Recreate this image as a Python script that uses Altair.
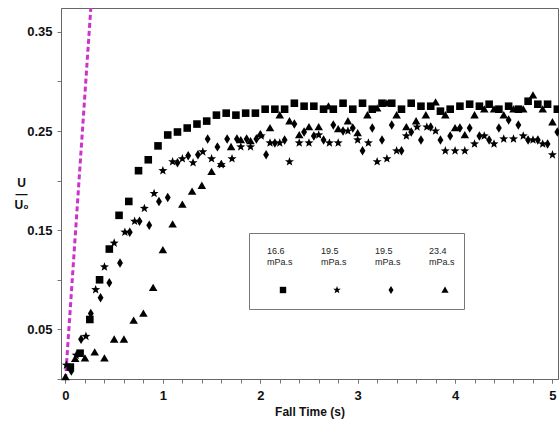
import altair as alt
import pandas as pd

# ---- data ----
sq_t = [0.05, 0.15, 0.25, 0.35, 0.45, 0.55, 0.65, 0.75, 0.85, 0.95,
        1.05, 1.15, 1.25, 1.35, 1.45, 1.55, 1.65, 1.75, 1.85, 1.95,
        2.05, 2.15, 2.25, 2.35, 2.45, 2.55, 2.65, 2.75, 2.85, 2.95,
        3.05, 3.15, 3.25, 3.35, 3.45, 3.55, 3.65, 3.75, 3.85, 3.95,
        4.05, 4.15, 4.25, 4.35, 4.45, 4.55, 4.65, 4.75, 4.85, 4.95, 5.05]
sq_u = [0.012, 0.026, 0.060, 0.100, 0.131, 0.165, 0.179, 0.210, 0.221, 0.235,
        0.246, 0.249, 0.253, 0.257, 0.260, 0.266, 0.268, 0.266, 0.268, 0.268,
        0.272, 0.272, 0.272, 0.278, 0.275, 0.275, 0.272, 0.272, 0.278, 0.272,
        0.278, 0.272, 0.278, 0.278, 0.272, 0.278, 0.275, 0.275, 0.270, 0.272,
        0.275, 0.277, 0.275, 0.277, 0.272, 0.275, 0.272, 0.280, 0.277, 0.277, 0.272]

st_t = [0.01, 0.11, 0.21, 0.31, 0.40, 0.50, 0.61, 0.71, 0.81, 0.91,
        1.00, 1.10, 1.20, 1.31, 1.41, 1.50, 1.60, 1.71, 1.80, 1.90,
        2.01, 2.10, 2.20, 2.30, 2.40, 2.50, 2.60, 2.71, 2.80, 2.90,
        3.00, 3.11, 3.20, 3.30, 3.40, 3.50, 3.61, 3.71, 3.80, 3.90,
        4.00, 4.10, 4.20, 4.30, 4.40, 4.50, 4.60, 4.70, 4.80, 4.90, 5.00]
st_u = [0.014, 0.024, 0.043, 0.090, 0.113, 0.137, 0.148, 0.159, 0.172, 0.187,
        0.210, 0.219, 0.222, 0.218, 0.229, 0.222, 0.216, 0.222, 0.234, 0.234,
        0.245, 0.238, 0.238, 0.219, 0.238, 0.238, 0.246, 0.238, 0.238, 0.250,
        0.241, 0.238, 0.219, 0.222, 0.230, 0.245, 0.254, 0.254, 0.250, 0.230,
        0.230, 0.230, 0.237, 0.245, 0.237, 0.242, 0.242, 0.245, 0.241, 0.237, 0.226]

di_t = [0.06, 0.16, 0.26, 0.36, 0.45, 0.56, 0.66, 0.76, 0.86, 0.96,
        1.05, 1.15, 1.26, 1.36, 1.46, 1.56, 1.66, 1.76, 1.86, 1.96,
        2.06, 2.15, 2.25, 2.35, 2.45, 2.55, 2.65, 2.75, 2.85, 2.95,
        3.05, 3.15, 3.25, 3.35, 3.45, 3.55, 3.65, 3.75, 3.85, 3.95,
        4.05, 4.15, 4.25, 4.35, 4.45, 4.55, 4.65, 4.75, 4.85, 4.95, 5.05]
di_u = [0.008, 0.040, 0.066, 0.082, 0.097, 0.117, 0.148, 0.159, 0.155, 0.179,
        0.183, 0.218, 0.225, 0.226, 0.242, 0.234, 0.242, 0.242, 0.242, 0.242,
        0.226, 0.238, 0.241, 0.257, 0.249, 0.245, 0.241, 0.256, 0.250, 0.253,
        0.230, 0.253, 0.241, 0.256, 0.230, 0.249, 0.241, 0.254, 0.241, 0.245,
        0.253, 0.253, 0.245, 0.241, 0.253, 0.261, 0.256, 0.241, 0.241, 0.237, 0.249]

tr_t = [0.00, 0.10, 0.20, 0.30, 0.40, 0.50, 0.60, 0.70, 0.80, 0.90,
        1.00, 1.10, 1.20, 1.30, 1.40, 1.50, 1.60, 1.70, 1.80, 1.90,
        2.00, 2.10, 2.20, 2.30, 2.40, 2.50, 2.60, 2.70, 2.80, 2.90,
        3.00, 3.10, 3.20, 3.30, 3.40, 3.50, 3.60, 3.70, 3.80, 3.90,
        4.00, 4.10, 4.20, 4.30, 4.40, 4.50, 4.60, 4.70, 4.80, 4.90, 5.00]
tr_u = [0.002, 0.0205, 0.021, 0.027, 0.021, 0.040, 0.040, 0.059, 0.066, 0.092,
        0.130, 0.156, 0.176, 0.189, 0.195, 0.209, 0.217, 0.234, 0.241, 0.240,
        0.247, 0.253, 0.266, 0.260, 0.246, 0.254, 0.254, 0.275, 0.252, 0.260,
        0.248, 0.266, 0.273, 0.278, 0.266, 0.254, 0.260, 0.266, 0.279, 0.266,
        0.253, 0.246, 0.266, 0.272, 0.272, 0.266, 0.272, 0.272, 0.286, 0.272, 0.259]

series_keys = ["16.6 a", "19.5 b", "19.5 c", "23.4 d"]
label_keys = ["16.6 mPa.s (1)", "19.5 mPa.s (2)", "19.5 mPa.s (3)", "23.4 mPa.s (4)"]

line_t = [0.0, 0.26]
line_u = [0.0, 0.374]

x_major = [0, 1, 2, 3, 4, 5]
x_minor = [0.0, 0.2, 0.4, 0.6, 0.8, 1.0, 1.2, 1.4, 1.6, 1.8, 2.0, 2.2, 2.4, 2.6,
           2.8, 3.0, 3.2, 3.4, 3.6, 3.8, 4.0, 4.2, 4.4, 4.6, 4.8, 5.0]
y_ticks = [0.0, 0.05, 0.1, 0.15, 0.2, 0.25, 0.3, 0.35]

# ---- tables ----
rows = []
for key, lab, ts, us in zip(series_keys, label_keys, [sq_t, st_t, di_t, tr_t], [sq_u, st_u, di_u, tr_u]):
    for t, u in zip(ts, us):
        rows.append({"t": t, "u": u, "series": key, "viscosity": lab})
df = pd.DataFrame(rows)
line_df = pd.DataFrame({"t": line_t, "u": line_u})

SQUARE = "M-0.8,-0.8L0.8,-0.8L0.8,0.8L-0.8,0.8Z"
STAR = ("M0,-1L0.247,-0.34L0.951,-0.309L0.399,0.13L0.588,0.809L0,0.42"
        "L-0.588,0.809L-0.399,0.13L-0.951,-0.309L-0.247,-0.34Z")
DIAMOND = "M0,-1L0.62,0L0,1L-0.62,0Z"
TRIANGLE = "M0,-0.85L0.9,0.7L-0.9,0.7Z"

FONT = "Liberation Sans"
NBSP = "\u00a0" * 14

x_scale = alt.Scale(domain=[-0.046, 5.057], nice=False, zero=False)
y_scale = alt.Scale(domain=[0, 0.374], nice=False, zero=False)

x_axis_major = alt.Axis(
    orient="bottom",
    values=x_major, format="d", labelOverlap=False,
    title="Fall Time (s)",
    titleFontSize=12, titleFontWeight="bold", titleFont=FONT, titleColor="#111",
    titlePadding=4,
    labelFontSize=13, labelFontWeight="bold", labelFont=FONT, labelColor="#111",
    labelPadding=6, tickSize=4, tickColor="#777", domainColor="#666", grid=False,
)
x_axis_minor = alt.Axis(
    orient="bottom",
    values=x_minor, labels=False, title=None, domain=False,
    tickSize=4, tickColor="#777", grid=False,
)
y_axis = alt.Axis(
    values=y_ticks,
    labelExpr="indexof(['0.05','0.15','0.25','0.35'], format(datum.value, '.2f')) >= 0 ? format(datum.value, '.2f') : ''",
    labelOverlap=False,
    title=["U", "—", "U₀"],
    titleAngle=0, titleAlign="center", titleBaseline="middle",
    titleX=-40, titleY=174, titleFontSize=12, titleFontWeight="bold",
    titleFont=FONT, titleColor="#111", titleLineHeight=11,
    labelFontSize=13, labelFontWeight="bold", labelFont=FONT, labelColor="#111",
    labelPadding=5, tickSize=4, tickColor="#777", domainColor="#666", grid=False,
)

points = alt.Chart(df).mark_point(filled=True, size=90, opacity=1).encode(
    x=alt.X("t:Q", scale=x_scale, axis=x_axis_major),
    y=alt.Y("u:Q", scale=y_scale, axis=y_axis),
    # symbols row of the legend (no labels, no box)
    shape=alt.Shape(
        "series:N",
        scale=alt.Scale(domain=series_keys, range=[SQUARE, STAR, DIAMOND, TRIANGLE]),
        legend=alt.Legend(
            title=None,
            orient="none", legendX=217, legendY=277,
            direction="horizontal", columns=4, columnPadding=44,
            labelExpr="''", labelOffset=0,
            symbolSize=64, symbolFillColor="black", symbolStrokeWidth=0,
            padding=0,
        ),
    ),
    # labels row of the legend (boxed, symbols hidden)
    color=alt.Color(
        "viscosity:N",
        scale=alt.Scale(domain=label_keys, range=["black", "black", "black", "black"]),
        legend=alt.Legend(
            title=None,
            orient="none", legendX=188, legendY=225,
            direction="horizontal", columns=4, columnPadding=19,
            labelExpr="substring(datum.label, 0, 4) == '23.4' ? ['23.4', 'mPa.s', '', '', '" + NBSP + "'] : [substring(datum.label, 0, 4), 'mPa.s', '', '', '']",
            labelAlign="left", labelBaseline="top", labelOffset=0,
            labelFont=FONT, labelFontSize=9, labelColor="#222",
            symbolSize=0, symbolOpacity=0, symbolStrokeWidth=0,
            padding=9, strokeColor="#777",
        ),
    ),
)

line = alt.Chart(line_df).mark_line(
    color="#cc33cc", strokeDash=[5, 3], strokeWidth=3, clip=True
).encode(
    x=alt.X("t:Q", scale=x_scale, axis=x_axis_minor),
    y=alt.Y("u:Q", scale=y_scale, axis=y_axis),
)

chart = alt.layer(line, points).resolve_axis(x="independent").properties(
    width=497, height=371,
    autosize=alt.AutoSizeParams(type="none"),
    padding={"left": 61, "top": 8, "right": 1, "bottom": 44},
    background="white",
).configure_view(stroke="#666", strokeWidth=1)

chart.save("out.html", embed_options={"renderer": "svg", "actions": False})
